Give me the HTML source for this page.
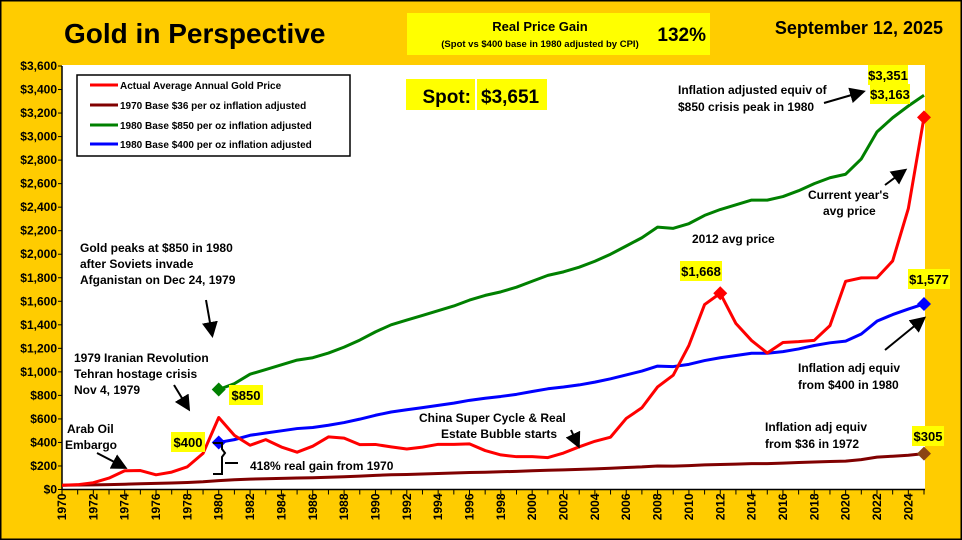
<!DOCTYPE html>
<html><head><meta charset="utf-8"><style>
body{margin:0;width:962px;height:540px;overflow:hidden;background:#FFCC00;font-family:"Liberation Sans",Arial,sans-serif}
svg{display:block}
text{font-family:"Liberation Sans",Arial,sans-serif;font-weight:bold}
</style></head><body>
<svg id="c" width="962" height="540">
<rect x="0.5" y="0.5" width="961" height="539" fill="#FFCC00" stroke="#000" stroke-width="2"/>
<rect x="62" y="65" width="863" height="425" fill="#fff"/>
<text x="64" y="43" font-size="28">Gold in Perspective</text>
<rect x="407" y="13" width="303" height="42" fill="#FFFF00"/>
<text x="540" y="31" font-size="13" text-anchor="middle">Real Price Gain</text>
<text x="540" y="47" font-size="9.5" text-anchor="middle">(Spot vs $400 base in 1980 adjusted by CPI)</text>
<text x="706" y="41" font-size="19" text-anchor="end">132%</text>
<text x="943" y="34" font-size="18" text-anchor="end">September 12, 2025</text>
<rect x="406" y="79" width="69" height="31" fill="#FFFF00"/>
<rect x="477" y="79" width="70" height="31" fill="#FFFF00"/>
<text x="471" y="103" font-size="19" text-anchor="end">Spot:</text>
<text x="481" y="103" font-size="19">$3,651</text>
<g id="axes"></g>
<g id="series"></g>
<g>
<rect x="77" y="75" width="273" height="81" fill="#fff" stroke="#000" stroke-width="1.5"/>
<line x1="90" y1="85" x2="118" y2="85" stroke="#f00" stroke-width="3"/>
<text x="120" y="89" font-size="10">Actual Average Annual Gold Price</text>
<line x1="90" y1="105" x2="118" y2="105" stroke="#800000" stroke-width="3"/>
<text x="120" y="109" font-size="10">1970 Base $36 per oz inflation adjusted</text>
<line x1="90" y1="125" x2="118" y2="125" stroke="#008000" stroke-width="3"/>
<text x="120" y="129" font-size="10">1980 Base $850 per oz inflation adjusted</text>
<line x1="90" y1="144" x2="118" y2="144" stroke="#00f" stroke-width="3"/>
<text x="120" y="148" font-size="10">1980 Base $400 per oz inflation adjusted</text>
</g>
<defs><marker id="ah" markerWidth="8" markerHeight="8" refX="6" refY="4" orient="auto"><path d="M0,0 L8,4 L0,8 z" fill="#000"/></marker></defs>
<g font-size="12">
<text x="80" y="252"><tspan x="80">Gold peaks at $850 in 1980</tspan><tspan x="80" dy="16">after Soviets invade</tspan><tspan x="80" dy="16">Afganistan on Dec 24, 1979</tspan></text>
<line x1="206" y1="300" x2="212" y2="334" stroke="#000" stroke-width="2" marker-end="url(#ah)"/>
<text x="74" y="362"><tspan x="74">1979 Iranian Revolution</tspan><tspan x="74" dy="16">Tehran hostage crisis</tspan><tspan x="74" dy="16">Nov 4, 1979</tspan></text>
<line x1="174" y1="385" x2="188" y2="408" stroke="#000" stroke-width="2" marker-end="url(#ah)"/>
<text x="67" y="433"><tspan x="67">Arab Oil</tspan><tspan x="65" dy="16">Embargo</tspan></text>
<line x1="97" y1="453" x2="124" y2="467" stroke="#000" stroke-width="2" marker-end="url(#ah)"/>
<path d="M213,443 h9 v6 l3,4 l-3,4 v17 h-9" fill="none" stroke="#000" stroke-width="2"/>
<line x1="225" y1="463" x2="238" y2="463" stroke="#000" stroke-width="2"/>
<text x="250" y="470">418% real gain from 1970</text>
<text x="419" y="422"><tspan x="419">China Super Cycle &amp; Real</tspan><tspan x="441" dy="16">Estate Bubble starts</tspan></text>
<line x1="571" y1="430" x2="578" y2="445" stroke="#000" stroke-width="2" marker-end="url(#ah)"/>
<text x="692" y="243">2012 avg price</text>
<text x="808" y="199"><tspan x="808">Current year's</tspan><tspan x="823" dy="16">avg price</tspan></text>
<line x1="885" y1="185" x2="904" y2="171" stroke="#000" stroke-width="2" marker-end="url(#ah)"/>
<text x="678" y="94"><tspan x="678">Inflation adjusted equiv of</tspan><tspan x="678" dy="17">$850 crisis peak in 1980</tspan></text>
<line x1="824" y1="103" x2="862" y2="92" stroke="#000" stroke-width="2" marker-end="url(#ah)"/>
<text x="798" y="372"><tspan x="798">Inflation adj equiv</tspan><tspan x="798" dy="17">from $400 in 1980</tspan></text>
<line x1="885" y1="350" x2="923" y2="319" stroke="#000" stroke-width="2" marker-end="url(#ah)"/>
<text x="765" y="431"><tspan x="765">Inflation adj equiv</tspan><tspan x="765" dy="17">from $36 in 1972</tspan></text>
</g>
<g id="labels"></g>
</svg>
<script>
const years = [];
for (let y = 1970; y <= 2025; y++) years.push(y);
const yTicks = [0,200,400,600,800,1000,1200,1400,1600,1800,2000,2200,2400,2600,2800,3000,3200,3400,3600];
const actual = [36,41,58,97,159,161,125,148,193,307,612,460,376,424,361,317,368,447,437,381,383,362,344,360,384,384,388,331,294,279,279,271,310,363,410,445,604,695,872,972,1225,1572,1668,1411,1266,1160,1250,1257,1268,1393,1770,1799,1800,1943,2388,3163];
const base36 = [36,38,39,41,45,49,52,55,60,66,75,83,88,91,95,98,100,104,108,114,120,125,128,132,136,140,144,147,151,154,159,164,167,171,175,181,187,192,200,199,203,209,213,216,220,220,224,229,234,238,241,254,275,283,291,305];
const base850Years = [];
for (let y = 1980; y <= 2025; y++) base850Years.push(y);
const base850 = [850,900,980,1020,1060,1100,1120,1160,1210,1270,1340,1400,1440,1480,1520,1560,1610,1650,1680,1720,1770,1820,1850,1890,1940,2000,2070,2140,2230,2220,2260,2330,2380,2420,2460,2460,2490,2540,2600,2650,2680,2810,3040,3160,3260,3351];
const base400 = [400,424,461,480,499,518,527,546,569,598,631,659,678,696,715,734,758,776,791,809,833,856,871,889,913,941,974,1007,1049,1045,1064,1096,1120,1139,1158,1158,1172,1195,1224,1247,1261,1322,1431,1487,1534,1577];

const X0 = 62, X1 = 924, Y0 = 489.5, Y1 = 66;
const xs = y => X0 + (y - 1970) / 55 * (X1 - X0);
const ys = v => Y0 - v / 3600 * (Y0 - Y1);
const NS = 'http://www.w3.org/2000/svg';
function mk(tag, attrs, parent){const e=document.createElementNS(NS,tag);for(const k in attrs)e.setAttribute(k,attrs[k]);parent.appendChild(e);return e;}
const axes = document.getElementById('axes');
const series = document.getElementById('series');
const labels = document.getElementById('labels');

let a = mk('line',{x1:X0,y1:Y1,x2:X0,y2:Y0,stroke:'#000','stroke-width':1.5},axes);


a = mk('line',{x1:X0,y1:Y0,x2:X1+1,y2:Y0,stroke:'#000','stroke-width':1.5},axes);


yTicks.forEach(v=>{
  mk('line',{x1:X0-4,y1:ys(v),x2:X0,y2:ys(v),stroke:'#000'},axes);
  const t = mk('text',{x:X0-5,y:ys(v)+4,'font-size':12,'text-anchor':'end'},axes);
  t.textContent = '$' + v.toLocaleString('en-US');
  
  
});
years.forEach(y=>{
  mk('line',{x1:xs(y),y1:Y0,x2:xs(y),y2:Y0+5,stroke:'#000'},axes);
  if ((y - 1970) % 2 === 0) {
    const t = mk('text',{x:0,y:0,'font-size':12,'text-anchor':'end',transform:`translate(${xs(y)+4},${Y0+4}) rotate(-90)`},axes);
    t.textContent = y;
    
    
  }
});
function line(xsArr, vals, color, name){
  const p = mk('polyline',{points:vals.map((v,i)=>xs(xsArr[i])+','+ys(v)).join(' '),fill:'none',stroke:color,'stroke-width':3,'stroke-linejoin':'round'},series);
  
  
}
function diamond(x,y,color,name){
  const d = mk('path',{d:`M${x},${y-7} L${x+7},${y} L${x},${y+7} L${x-7},${y} z`,fill:color},series);
  
  
}
function label(x,y,txt,name,w){
  const r = mk('rect',{x:x,y:y,width:w,height:20,fill:'#FFFF00'},labels);
  
  
  const t = mk('text',{x:x+w/2,y:y+15,'font-size':13,'text-anchor':'middle'},labels);
  t.textContent = txt;
  
  
}
line(years, base36, '#800000', 'series-1970-base-36');
line(base850Years, base850, '#008000', 'series-1980-base-850');
line(base850Years, base400, '#0000ff', 'series-1980-base-400');
line(years, actual, '#ff0000', 'series-actual-gold');
diamond(xs(1980), ys(base850[0]), '#008000', 'marker-850-1980');
diamond(xs(1980), ys(base400[0]), '#0000ff', 'marker-400-1980');
diamond(xs(2012), ys(actual[42]), '#ff0000', 'marker-peak-2012');
diamond(xs(2025), ys(actual[actual.length-1]), '#ff0000', 'marker-actual-2025');
diamond(xs(2025), ys(base400[base400.length-1]), '#0000ff', 'marker-400-2025');
diamond(xs(2025), ys(base36[base36.length-1]), '#8B4513', 'marker-36-2025');
label(229, 385, '$850', 'label-850', 34);
label(171, 432, '$400', 'label-400', 34);
label(680, 261, '$1,668', 'label-1668', 42);
label(908, 269, '$1,577', 'label-1577', 42);
label(912, 426, '$305', 'label-305', 32);
label(868, 65, '$3,351', 'label-3351', 40);
label(870, 84, '$3,163', 'label-3163', 40);
</script>
</body></html>
